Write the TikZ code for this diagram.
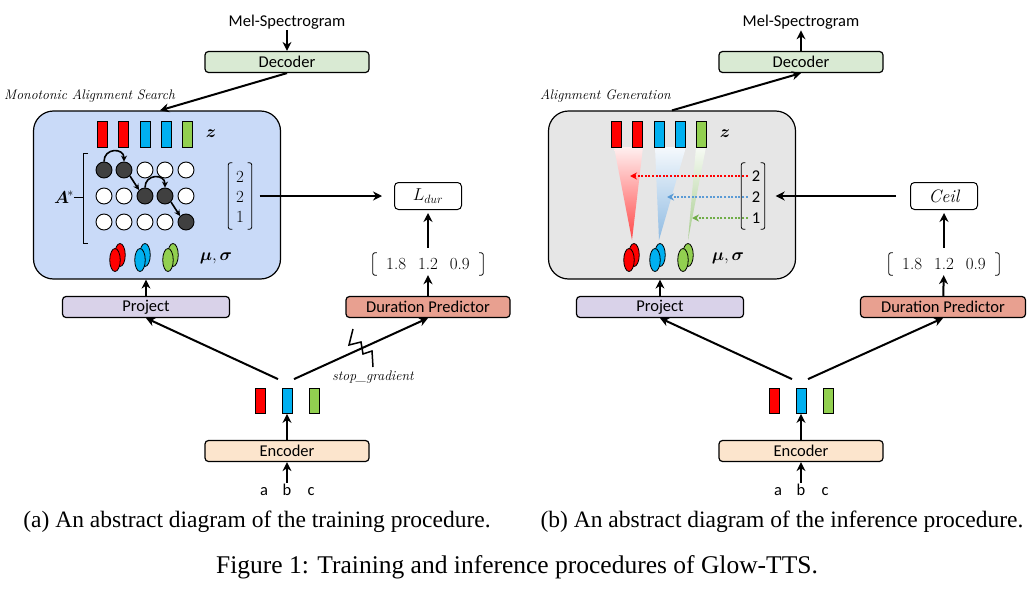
\documentclass[tikz,border=0pt]{standalone}
\usepackage{amsmath}
\usepackage{fontspec}
\setsansfont{Carlito}
\newfontfamily\timesf{Liberation Serif}
\usetikzlibrary{arrows.meta,calc,shapes.geometric}
\definecolor{decg}{HTML}{D9EAD3}
\definecolor{projc}{HTML}{D9D2E9}
\definecolor{durc}{HTML}{E8A090}
\definecolor{encc}{HTML}{FCE5CD}
\definecolor{bluebox}{HTML}{C9DAF8}
\definecolor{graybox}{HTML}{E6E6E6}
\definecolor{zred}{HTML}{FF0000}
\definecolor{zblue}{HTML}{00B0F0}
\definecolor{zgreen}{HTML}{92D050}
\definecolor{darkc}{HTML}{404040}
\definecolor{dblue}{HTML}{5B9BD5}
\definecolor{dgreen}{HTML}{70AD47}
\tikzset{
  lbl/.style={font=\sffamily\fontsize{16.5}{16.5}\selectfont, inner sep=1pt},
  inp/.style={font=\sffamily\fontsize{16.5}{16.5}\selectfont, inner sep=1pt, text height=11pt, text depth=3pt},
  block/.style={draw=black, line width=1.2pt, rounded corners=3.5pt, minimum width=164pt, minimum height=21pt, inner sep=0pt, font=\sffamily\fontsize{16.5}{16.5}\selectfont},
  itl/.style={font=\itshape\fontsize{13.8}{13.8}\selectfont, inner sep=0pt},
  mth/.style={font=\fontsize{17}{17}\selectfont, inner sep=0pt},
  bigbox/.style={draw=black, line width=1.2pt, rounded corners=20pt, minimum width=247pt, minimum height=168pt, inner sep=0pt},
  smallbox/.style={draw=black, line width=1pt, rounded corners=4pt, minimum width=67pt, minimum height=27pt, fill=white, inner sep=0pt, font=\fontsize{18}{18}\selectfont},
  arr/.style={line width=2pt, -{Stealth[length=9pt, width=9pt]}},
  marr/.style={line width=1.6pt, -{Stealth[length=6pt, width=6pt]}},
  darr/.style={line width=2pt, dash pattern=on 2pt off 1.6pt, -{Stealth[length=7pt, width=7pt]}},
  zbar/.style={draw=black, line width=0.8pt, minimum width=10pt, minimum height=26pt, inner sep=0pt},
  ebar/.style={draw=black, line width=0.8pt, minimum width=10pt, minimum height=25pt, inner sep=0pt},
  circw/.style={circle, draw=black, line width=0.9pt, minimum size=16pt, inner sep=0pt, fill=white},
  circd/.style={circle, draw=black, line width=0.9pt, minimum size=16pt, inner sep=0pt, fill=darkc},
  ell/.style={ellipse, draw=black, line width=0.8pt, minimum width=10.5pt, minimum height=23pt, inner sep=0pt},
  vecbox/.style={minimum width=23pt, minimum height=66pt, inner sep=0pt},
  rowvec/.style={minimum width=110pt, minimum height=22pt, inner sep=0pt, font=\fontsize{17}{17}\selectfont},
  brk/.style={line width=0.8pt, rounded corners=2pt},
  captxt/.style={font=\timesf\fontsize{23.5}{23.5}\selectfont, inner sep=0pt},
  figcap/.style={font=\timesf\fontsize{25.5}{25.5}\selectfont, inner sep=0pt},
}
\begin{document}
\begin{tikzpicture}[x=1pt,y=-1pt]
\useasboundingbox (0,0) rectangle (1033,597);
% ================= LEFT PANEL =================
\node[lbl] (melL) at (287,22) {Mel-Spectrogram};
\node[block, fill=decg] (decL) at (287,62) {Decoder};
\draw[arr] (melL) -- (decL);
\node[bigbox, fill=bluebox] (masL) at (157,195) {};
\draw[arr] (decL.south) -- ([xshift=3pt]masL.north);
\node[itl, anchor=west] (masT) at (4,96) {Monotonic Alignment Search};
% z bars
\node[zbar, fill=zred] (zL1) at (102,134) {};
\node[zbar, fill=zred] (zL2) at (123,134) {};
\node[zbar, fill=zblue] (zL3) at (145,134) {};
\node[zbar, fill=zblue] (zL4) at (166,134) {};
\node[zbar, fill=zgreen] (zL5) at (187,134) {};
\node[mth] (zLt) at (211,134) {$\boldsymbol{z}$};
% alignment matrix
\node[circd] (c11) at (104,170) {};
\node[circd] (c12) at (124,170) {};
\node[circw] (c13) at (145,170) {};
\node[circw] (c14) at (165,170) {};
\node[circw] (c15) at (186,170) {};
\node[circw] (c21) at (104,196) {};
\node[circw] (c22) at (124,196) {};
\node[circd] (c23) at (145,196) {};
\node[circd] (c24) at (165,196) {};
\node[circw] (c25) at (186,196) {};
\node[circw] (c31) at (104,222) {};
\node[circw] (c32) at (124,222) {};
\node[circw] (c33) at (145,222) {};
\node[circw] (c34) at (165,222) {};
\node[circd] (c35) at (186,222) {};
\draw[marr] (c11.north) .. controls +(0,-14) and +(0,-14) .. (c12.north);
\draw[marr] (c12.south east) -- (c23.north west);
\draw[marr] (c23.north) .. controls +(0,-14) and +(0,-14) .. (c24.north);
\draw[marr] (c24.south east) -- (c35.north west);
\node[mth] (astL) at (64,197) {$\boldsymbol{A}^{\!*}$};
\coordinate (brkL) at (83,197);
\draw[line width=1pt] (88,153) -- (83,153) -- (83,243) -- (88,243);
\draw[line width=1pt] (astL.east) -- (brkL);
% column vector
\node[vecbox] (vecL) at (240,196) {};
\draw[brk] ([xshift=4pt]vecL.north west) -- (vecL.north west) -- (vecL.south west) -- ([xshift=4pt]vecL.south west);
\draw[brk] ([xshift=-4pt]vecL.north east) -- (vecL.north east) -- (vecL.south east) -- ([xshift=-4pt]vecL.south east);
\node[mth] (vL1) at (240,177) {2};
\node[mth] (vL2) at (240,197) {2};
\node[mth] (vL3) at (240,217) {1};
% L_dur
\node[smallbox] (ldur) at (428,196) {$L_{dur}$};
\draw[arr, shorten <=8pt, shorten >=12pt] (vecL) -- (ldur);
% mu sigma ellipses
\node[ell, fill=zred] (mLr2) at (120,255) {};
\node[ell, fill=zred] (mLr1) at (115,260) {};
\node[ell, fill=zblue] (mLb2) at (145,255) {};
\node[ell, fill=zblue] (mLb1) at (140,260) {};
\node[ell, fill=zgreen] (mLg2) at (173,255) {};
\node[ell, fill=zgreen] (mLg1) at (168,260) {};
\node[mth] (msL) at (216,258) {$\boldsymbol{\mu},\boldsymbol{\sigma}$};
% duration vector
\node[rowvec] (dvL) at (428,264) {1.8\hspace{12pt}1.2\hspace{12pt}0.9};
\draw[brk] ([xshift=4pt]dvL.north west) -- (dvL.north west) -- (dvL.south west) -- ([xshift=4pt]dvL.south west);
\draw[brk] ([xshift=-4pt]dvL.north east) -- (dvL.north east) -- (dvL.south east) -- ([xshift=-4pt]dvL.south east);
\draw[arr, shorten <=5pt, shorten >=3pt] (dvL) -- (ldur);
% project / duration predictor
\node[block, fill=projc, minimum width=167pt] (projL) at (146,307) {Project};
\node[block, fill=durc, minimum width=164pt] (durL) at (428,307) {Duration Predictor};
\draw[arr] (projL.north) -- (projL.north |- masL.south);
\draw[arr] (durL) -- (dvL);
% encoder outputs
\node[ebar, fill=zred] (eL1) at (260,401) {};
\node[ebar, fill=zblue] (eL2) at (287,401) {};
\node[ebar, fill=zgreen] (eL3) at (314,401) {};
\draw[arr] ([xshift=-9pt,yshift=9pt]eL2.north) -- (projL.south);
\draw[arr] ([xshift=7pt,yshift=9pt]eL2.north) -- (durL.south);
\draw[line width=1.5pt] (353,329) -- (349,345) -- (361,342) -- (363,354) -- (372,351) -- (373,367);
\node[itl] (sgL) at (373,377) {stop\_gradient};
\node[block, fill=encc] (encL) at (287,451) {Encoder};
\draw[arr] (encL) -- (eL2);
\node[inp] (aL) at (264,491) {a};
\node[inp] (bL) at (287,491) {b};
\node[inp] (cL) at (311,491) {c};
\draw[arr] (bL) -- (encL);
% ================= RIGHT PANEL =================
\node[lbl] (melR) at (801,22) {Mel-Spectrogram};
\node[block, fill=decg] (decR) at (801,62) {Decoder};
\draw[arr] (decR) -- (melR);
\node[bigbox, fill=graybox] (genR) at (672,195) {};
\draw[arr] (genR.north) -- (decR.south);
\node[itl, anchor=west] (genT) at (540,96) {Alignment Generation};
% cones
\shade[top color=red!6!white, bottom color=red!72!white] (614,147) -- (643,147) -- (632,240) -- cycle;
\shade[top color=dblue!6!white, bottom color=dblue!68!white] (655,147) -- (686,147) -- (659,240) -- cycle;
\shade[top color=dgreen!6!white, bottom color=dgreen!62!white] (696,147) -- (706,147) -- (688,240) -- cycle;
% z bars
\node[zbar, fill=zred] (zR1) at (616,134) {};
\node[zbar, fill=zred] (zR2) at (637,134) {};
\node[zbar, fill=zblue] (zR3) at (659,134) {};
\node[zbar, fill=zblue] (zR4) at (680,134) {};
\node[zbar, fill=zgreen] (zR5) at (701,134) {};
\node[mth] (zRt) at (725,134) {$\boldsymbol{z}$};
% column vector
\node[vecbox] (vecR) at (753,196) {};
\draw[brk] ([xshift=4pt]vecR.north west) -- (vecR.north west) -- (vecR.south west) -- ([xshift=4pt]vecR.south west);
\draw[brk] ([xshift=-4pt]vecR.north east) -- (vecR.north east) -- (vecR.south east) -- ([xshift=-4pt]vecR.south east);
\node[lbl] (vR1) at (756,176) {2};
\node[lbl] (vR2) at (756,197) {2};
\node[lbl] (vR3) at (756,218) {1};
\coordinate (tR1) at (630,176);
\coordinate (tR2) at (667,197);
\coordinate (tR3) at (692,218);
\draw[darr, draw=zred, shorten <=3pt] (vR1.west) -- (tR1);
\draw[darr, draw=dblue, shorten <=3pt] (vR2.west) -- (tR2);
\draw[darr, draw=dgreen, shorten <=3pt] (vR3.west) -- (tR3);
% ceil
\node[smallbox] (ceilR) at (944,196) {$\mathit{Ceil}$};
\draw[arr, shorten <=14pt, shorten >=11pt] (ceilR) -- (vecR);
% ellipses
\node[ell, fill=zred] (mRr2) at (634,255) {};
\node[ell, fill=zred] (mRr1) at (629,260) {};
\node[ell, fill=zblue] (mRb2) at (660,255) {};
\node[ell, fill=zblue] (mRb1) at (655,260) {};
\node[ell, fill=zgreen] (mRg2) at (688,255) {};
\node[ell, fill=zgreen] (mRg1) at (683,260) {};
\node[mth] (msR) at (728,258) {$\boldsymbol{\mu},\boldsymbol{\sigma}$};
% duration vector
\node[rowvec] (dvR) at (944,264) {1.8\hspace{12pt}1.2\hspace{12pt}0.9};
\draw[brk] ([xshift=4pt]dvR.north west) -- (dvR.north west) -- (dvR.south west) -- ([xshift=4pt]dvR.south west);
\draw[brk] ([xshift=-4pt]dvR.north east) -- (dvR.north east) -- (dvR.south east) -- ([xshift=-4pt]dvR.south east);
\draw[arr, shorten <=5pt, shorten >=3pt] (dvR) -- (ceilR);
\node[block, fill=projc, minimum width=167pt] (projR) at (660,307) {Project};
\node[block, fill=durc, minimum width=165pt] (durR) at (943,307) {Duration Predictor};
\draw[arr] (projR.north) -- (projR.north |- genR.south);
\draw[arr] (durR) -- (dvR);
\node[ebar, fill=zred] (eR1) at (774,401) {};
\node[ebar, fill=zblue] (eR2) at (801,401) {};
\node[ebar, fill=zgreen] (eR3) at (828,401) {};
\draw[arr] ([xshift=-9pt,yshift=9pt]eR2.north) -- (projR.south);
\draw[arr] ([xshift=7pt,yshift=9pt]eR2.north) -- (durR.south);
\node[block, fill=encc] (encR) at (801,451) {Encoder};
\draw[arr] (encR) -- (eR2);
\node[inp] (aR) at (778,491) {a};
\node[inp] (bR) at (801,491) {b};
\node[inp] (cR) at (825,491) {c};
\draw[arr] (bR) -- (encR);
% captions
\node[captxt] (capA) at (257,522) {(a) An abstract diagram of the training procedure.};
\node[captxt] (capB) at (782,522) {(b) An abstract diagram of the inference procedure.};
\node[figcap] (capF) at (517,567) {Figure 1: Training and inference procedures of Glow-TTS.};
\end{tikzpicture}
\end{document}
